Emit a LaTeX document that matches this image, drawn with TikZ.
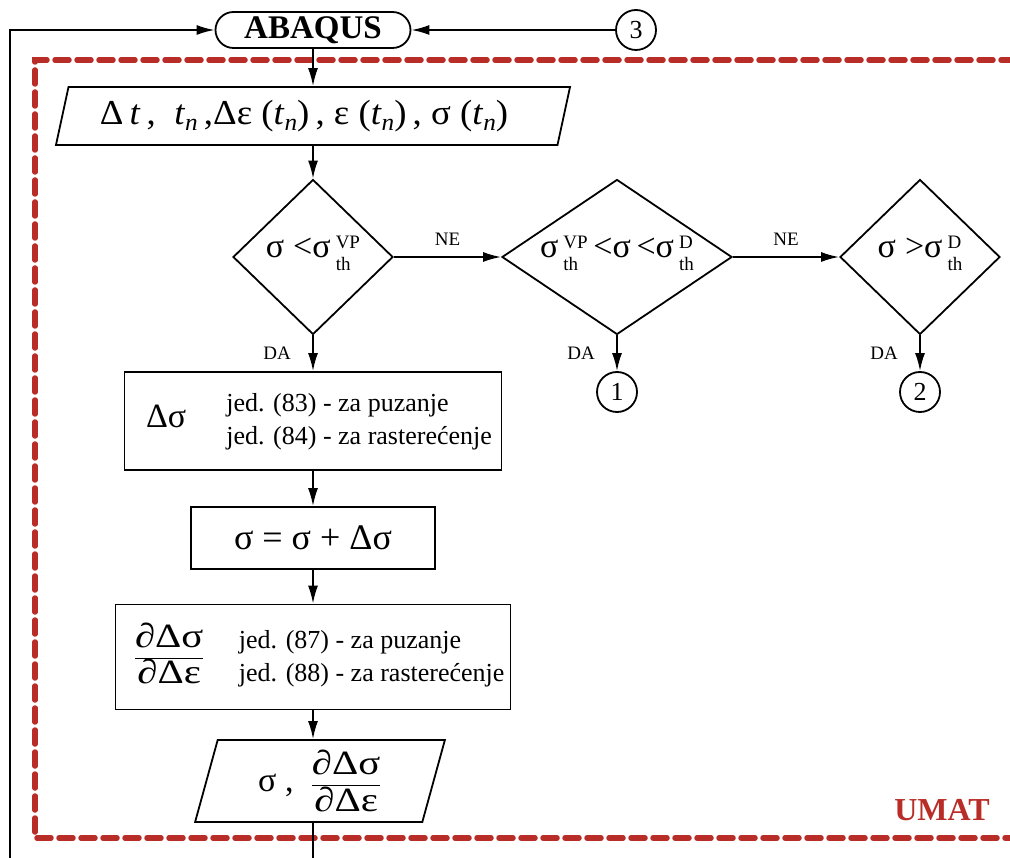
\documentclass[tikz,border=0pt]{standalone}
\usepackage{fontspec}
\usepackage{graphicx}
\setmainfont{Liberation Serif}
\usetikzlibrary{arrows.meta,shapes.geometric}
\definecolor{umatred}{RGB}{185,45,40}
\newcommand{\bigtxt}{\fontsize{34}{38}\selectfont}
\newcommand{\jedtxt}{\fontsize{26}{33}\selectfont}
\newcommand{\scrtxt}{\fontsize{19}{22}\selectfont}
\newcommand{\tn}{\textit{t}\raisebox{-6pt}{\fontsize{24}{24}\selectfont\itshape n}}
\newcommand{\sth}[1]{σ\kern5pt\raisebox{-13pt}{\scrtxt\begin{tabular}[b]{@{}l@{}}#1\\th\end{tabular}}}
\newcommand{\dsde}{\scalebox{1.2}[1]{$\displaystyle\frac{\mbox{∂Δσ}}{\mbox{∂Δε}}$}}
\begin{document}
\begin{tikzpicture}[x=1pt,y=-1pt,
  line/.style={line width=1.8pt},
  arr/.style={line,-{Latex[length=18pt,width=10pt]}},
  box/.style={draw,line width=1.8pt,inner sep=0pt},
  startbox/.style={box,rounded corners=18pt,minimum width=195pt,minimum height=36pt,font=\bfseries\fontsize{33}{33}\selectfont},
  io/.style={box,trapezium,trapezium stretches=true},
  decision/.style={box,diamond,minimum height=155pt},
  conn/.style={box,circle,minimum size=40pt,font=\fontsize{26}{26}\selectfont},
  yesno/.style={font=\fontsize{19}{19}\selectfont},
  umat/.style={draw=umatred,line width=5.5pt,dash pattern=on 14pt off 8pt,line cap=round}]
  \useasboundingbox (0,0) rectangle (1010,858);
  \clip (0,0) rectangle (1010,858);

  % UMAT frame
  \draw[umat] (1015,60) -- (35,60) -- (35,838) -- (1015,838);
  \node[font=\bfseries\fontsize{32}{32}\selectfont,text=umatred] (umat) at (942,810) {UMAT};

  % top
  \node[startbox] (abaqus) at (313,30) {ABAQUS};
  \node[conn] (c3) at (636,30) {3};
  \node[io,trapezium left angle=71,trapezium right angle=109,minimum width=515pt,minimum height=58pt,font=\fontsize{35}{38}\selectfont] (input) at (313,116)
    {\scalebox{1.05}[1]{Δ\,\textit{t}\,,\ \ \tn\,,Δε\ (\tn)\,,\ ε\ (\tn)\,,\ σ\ (\tn)}\hspace*{18pt}};

  % decisions
  \node[decision,minimum width=160pt] (d1) at (313,257) {};
  \node[font=\bigtxt] (d1txt) at ([yshift=2pt]d1) {σ\hspace{9pt}<\sth{VP}};
  \node[decision,minimum width=230pt] (d2) at (617,257) {};
  \node[font=\bigtxt] (d2txt) at ([yshift=2pt]d2) {\sth{VP}\,<σ\,<\sth{D}};
  \node[decision,minimum width=160pt] (d3) at (920,257) {};
  \node[font=\bigtxt] (d3txt) at ([yshift=2pt]d3) {σ\hspace{9pt}>\sth{D}};
  \node[conn] (c1) at (617,392) {1};
  \node[conn] (c2) at (920,392) {2};

  % update
  \node[box,minimum width=377pt,minimum height=98pt] (b1) at (313,421)
    {\hspace*{12pt}{\bigtxt Δσ}\hspace{40pt}{\jedtxt\begin{tabular}{@{}l@{}}jed. (83) - za puzanje\\jed. (84) - za rasterećenje\end{tabular}}};
  \node[box,minimum width=244pt,minimum height=62pt,font=\fontsize{36}{36}\selectfont] (b2) at (313,538) {σ = σ + Δσ};
  \node[box,minimum width=395pt,minimum height=105pt] (b3) at (313,657)
    {\hspace*{12pt}{\bigtxt\dsde}\hspace{34pt}{\jedtxt\begin{tabular}{@{}l@{}}jed. (87) - za puzanje\\jed. (88) - za rasterećenje\end{tabular}}};
  \node[io,trapezium left angle=77.5,trapezium right angle=102.5,minimum width=250pt,minimum height=82pt,font=\bigtxt] (out) at (320,781)
    {σ\ ,\ \ \dsde};

  % connectors
  \coordinate (loopin) at (10,858);
  \coordinate (loopout) at (313,858);
  \draw[arr] (c3) -- (abaqus);
  \draw[arr] (loopin) |- (abaqus.west);
  \draw[arr] (abaqus) -- (input);
  \draw[arr] (input) -- (d1);
  \draw[arr] (d1) -- node[yesno,above=7pt] (ne1) {NE} (d2);
  \draw[arr] (d2) -- node[yesno,above=7pt] (ne2) {NE} (d3);
  \draw[arr] (d1) -- node[yesno,left=18pt] (da1) {DA} (b1);
  \draw[arr] (d2) -- node[yesno,left=18pt] (da2) {DA} (c1);
  \draw[arr] (d3) -- node[yesno,left=18pt] (da3) {DA} (c2);
  \draw[arr] (b1) -- (b2);
  \draw[arr] (b2) -- (b3);
  \draw[arr] (b3.south) -- (b3.south |- out.north);
  \draw[line] (out.south -| loopout) -- (loopout);
\end{tikzpicture}
\end{document}
